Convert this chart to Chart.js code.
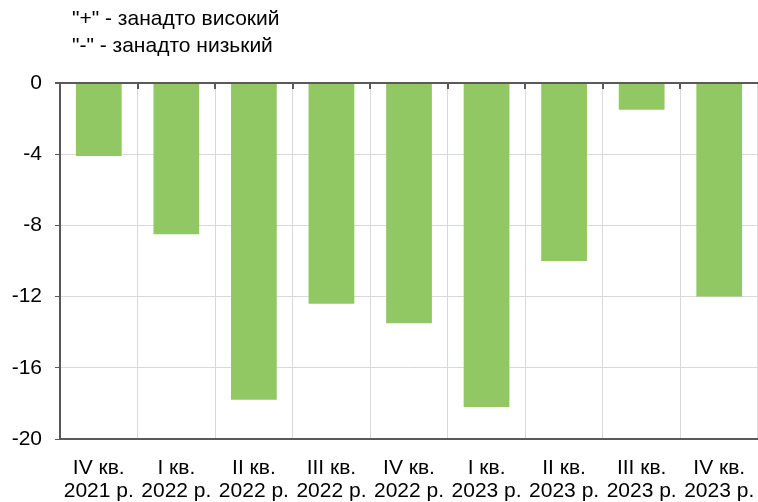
<!DOCTYPE html>
<html>
<head>
<meta charset="utf-8">
<script src="https://cdn.jsdelivr.net/npm/chart.js@4.4.0/dist/chart.umd.min.js"></script>
<style>
  body { margin: 0; background: #fff; }
  #wrap { position: relative; width: 758px; height: 502px; }
  #note { position: absolute; left: 72px; top: 4px; font: 21px "Liberation Sans", Arial, sans-serif; color: #000; line-height: 27px; }
</style>
</head>
<body>
<div id="wrap">
  <canvas id="myChart" width="758" height="502"></canvas>
  <div id="note">"+" - занадто високий<br>"-" - занадто низький</div>
</div>
<script>
const quarters = ['IV кв.', 'I кв.', 'II кв.', 'III кв.', 'IV кв.', 'I кв.', 'II кв.', 'III кв.', 'IV кв.'];
const years = ['2021 р.', '2022 р.', '2022 р.', '2022 р.', '2022 р.', '2023 р.', '2023 р.', '2023 р.', '2023 р.'];
const balance = [-4.1, -8.5, -17.8, -12.4, -13.5, -18.2, -10.0, -1.5, -12.0];
const yTicks = [0, -4, -8, -12, -16, -20];

const dark = '#595959';
const light = '#d9d9d9';

// little marks hanging down from the zero line, like the source
const zeroTicks = {
  id: 'zeroTicks',
  afterDraw(chart) {
    const xs = chart.scales.x, ys = chart.scales.y;
    const y0 = ys.getPixelForValue(0);
    const step = xs.width / quarters.length;
    const c = chart.ctx;
    c.save();
    c.strokeStyle = dark;
    c.lineWidth = 2;
    for (let i = 1; i < quarters.length; i++) {
      const x = Math.round(xs.left + i * step);
      c.beginPath();
      c.moveTo(x, y0);
      c.lineTo(x, y0 + 6);
      c.stroke();
    }
    c.restore();
  }
};

const ctx = document.getElementById('myChart');
new Chart(ctx, {
  type: 'bar',
  data: {
    labels: quarters.map((q, i) => [q, years[i]]),
    datasets: [{
      data: balance,
      backgroundColor: '#92c864',
      borderWidth: 0,
      barPercentage: 0.59,
      categoryPercentage: 1
    }]
  },
  options: {
    responsive: false,
    animation: false,
    layout: { padding: { top: 83, left: 0, right: -3, bottom: 0 } },
    plugins: { legend: { display: false }, tooltip: { enabled: false } },
    scales: {
      x: {
        offset: true,
        afterFit: s => { s.height = 63; s.paddingLeft = 0; s.paddingRight = 0; },
        grid: { offset: true, color: light, lineWidth: 1, drawTicks: false },
        border: { color: dark, width: 2 },
        ticks: {
          color: '#000',
          padding: 18,
          maxRotation: 0,
          autoSkip: false,
          font: { family: '"Liberation Sans", Arial, sans-serif', size: 21, lineHeight: 1.1 }
        }
      },
      y: {
        min: -20,
        max: 0,
        afterFit: s => { s.width = 60; },
        afterBuildTicks: s => { s.ticks = yTicks.map(v => ({ value: v })); },
        grid: {
          color: c => c.tick && c.tick.value === 0 ? dark : light,
          lineWidth: c => c.tick && c.tick.value === 0 ? 2 : 1,
          tickColor: dark,
          tickLength: 5
        },
        border: { color: dark, width: 2 },
        ticks: {
          color: '#000',
          padding: 13,
          font: { family: '"Liberation Sans", Arial, sans-serif', size: 21 }
        }
      }
    }
  },
  plugins: [zeroTicks]
});
</script>
</body>
</html>
